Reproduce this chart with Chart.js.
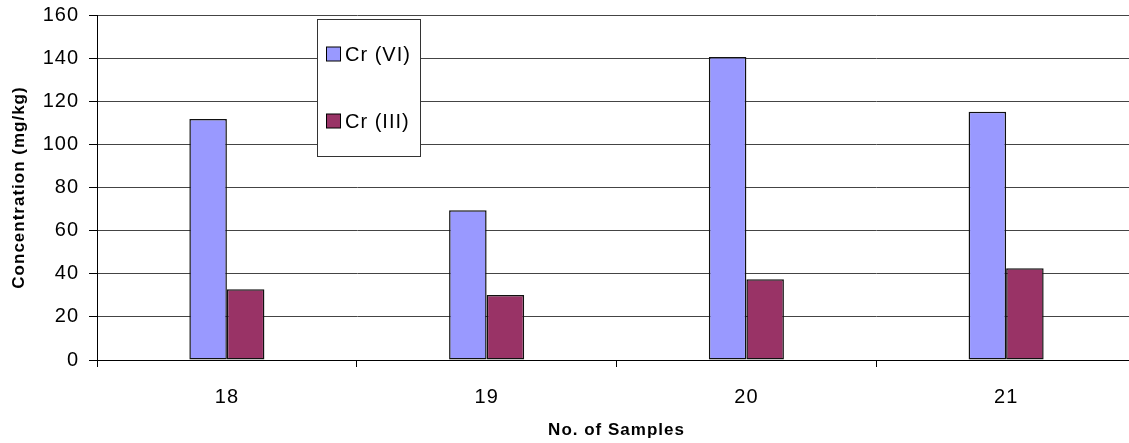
<!DOCTYPE html>
<html>
<head>
<meta charset="utf-8">
<script src="https://cdn.jsdelivr.net/npm/chart.js@4/dist/chart.umd.min.js"></script>
<style>
    html, body { margin: 0; padding: 0; background: #fff; overflow: hidden; }
    #wrap { width: 1140px; height: 443px; position: relative; }
</style>
</head>
<body>
<div id="wrap"><canvas id="chart"></canvas></div>
<script>
// values
const samples = ["18", "19", "20", "21"];
const crVI = [111.8, 69.4, 140.5, 115.1];
const crIII = [32.8, 30.1, 37.5, 42.6];
const seriesNames = ["Cr (VI)", "Cr (III)"];
const seriesColors = ["#9999FF", "#993366"];

const fontFamily = "'Liberation Sans', Arial, sans-serif";

// Excel-like wide glyph spacing
const spacingPlugin = {
    id: "spacing",
    beforeDraw(chart) {
        chart.ctx.letterSpacing = "1px";
    }
};

// legend box sitting inside the plot, like the original
const boxLegend = {
    id: "boxLegend",
    afterDraw(chart) {
        const ctx = chart.ctx;
        const x = 317.5, y = 19.5, w = 103, h = 137;
        ctx.save();
        ctx.fillStyle = "#fff";
        ctx.fillRect(x, y, w, h);
        ctx.strokeStyle = "#333";
        ctx.lineWidth = 1;
        ctx.strokeRect(x, y, w, h);

        const rowY = [54, 121];
        ctx.font = "20px " + fontFamily;
        ctx.letterSpacing = "1px";
        ctx.textBaseline = "middle";
        ctx.textAlign = "left";
        chart.data.datasets.forEach(function (ds, i) {
            ctx.fillStyle = ds.backgroundColor;
            ctx.fillRect(326.5, rowY[i] - 7, 14, 14);
            ctx.strokeStyle = "#000";
            ctx.strokeRect(326.5, rowY[i] - 7, 14, 14);
            ctx.fillStyle = "#000";
            ctx.fillText(ds.label, 345, rowY[i] + 1);
        });
        ctx.restore();
    }
};

Chart.defaults.color = "#000";
Chart.defaults.font.family = fontFamily;

new Chart(document.getElementById("chart"), {
    type: "bar",
    data: {
        labels: samples,
        datasets: [{
            label: seriesNames[0],
            data: crVI,
            backgroundColor: seriesColors[0],
            borderColor: "#111",
            borderWidth: 1.5,
            borderSkipped: false
        }, {
            label: seriesNames[1],
            data: crIII,
            backgroundColor: seriesColors[1],
            borderColor: "#111",
            borderWidth: 1.5,
            borderSkipped: false
        }]
    },
    options: {
        responsive: true,
        maintainAspectRatio: false,
        animation: false,
        layout: { padding: { top: 15, right: 4, left: 0, bottom: 0 } },
        datasets: {
            bar: { categoryPercentage: 0.289, barPercentage: 1 }
        },
        plugins: {
            legend: { display: false },
            tooltip: { enabled: false }
        },
        scales: {
            x: {
                afterFit: function (scale) {
                    scale.height = 83;
                    scale.paddingLeft = 0;
                    scale.paddingRight = 0;
                },
                grid: {
                    display: true,
                    drawOnChartArea: false,
                    drawTicks: true,
                    tickLength: 7,
                    tickColor: "#000",
                    offset: true
                },
                border: { display: true, color: "#000", width: 1 },
                ticks: { font: { size: 20 }, padding: 18, maxRotation: 0 },
                title: {
                    display: true,
                    text: "No. of Samples",
                    font: { size: 17, weight: "bold" },
                    padding: { top: 0, bottom: 2 }
                }
            },
            y: {
                min: 0,
                max: 160,
                afterFit: function (scale) {
                    scale.width = 97;
                    scale.paddingTop = 0;
                    scale.paddingBottom = 0;
                },
                grid: {
                    color: "#444",
                    drawTicks: true,
                    tickLength: 8,
                    tickColor: "#000"
                },
                border: { display: true, color: "#000", width: 1 },
                ticks: { stepSize: 20, font: { size: 20 }, padding: 10 },
                title: {
                    display: true,
                    text: "Concentration (mg/kg)",
                    font: { size: 17, weight: "bold" },
                    padding: { top: 9, bottom: 0 }
                }
            }
        }
    },
    plugins: [spacingPlugin, boxLegend]
});
</script>
</body>
</html>
